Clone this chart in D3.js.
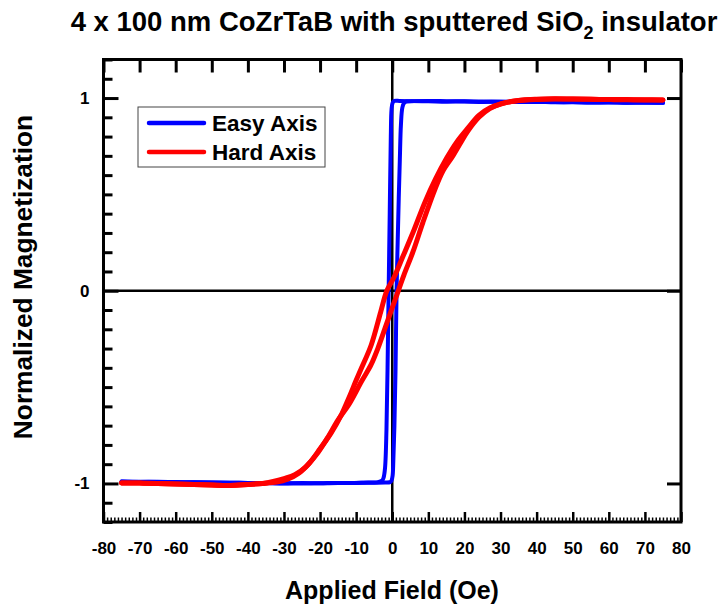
<!DOCTYPE html>
<html><head><meta charset="utf-8">
<script src="https://cdn.jsdelivr.net/npm/d3@7"></script>
<style>
body{margin:0;background:#fff}
text{font-family:"Liberation Sans",Arial,sans-serif;font-weight:bold;fill:#000}
</style></head><body><svg id="c" width="722" height="607"></svg>
<script>
// ---- data ----
const xTickValues = [-80,-70,-60,-50,-40,-30,-20,-10,0,10,20,30,40,50,60,70,80];
const yTickValues = [-1,0,1];
const seriesNames = ["Easy Axis","Hard Axis"];

// Easy axis: descending branch (+75 -> -75)
const easyDescH = [75,70,65,60,55,50,45,40,35,30,25,20,15,10,5,2,0.6,0.1,-0.2,-0.4,-0.7,-1.0,-1.3,-1.6,-2.0,-2.4,-2.8,-4,-8,-12,-16,-20,-25,-30,-35,-40,-45,-50,-55,-60,-65,-70,-75];
const easyDescM = [0.975,0.977,0.976,0.978,0.977,0.979,0.978,0.98,0.979,0.981,0.98,0.982,0.981,0.983,0.984,0.985,0.985,0.975,0.94,0.8,0.4,0.0,-0.4,-0.72,-0.92,-0.97,-0.985,-0.993,-0.996,-0.998,-0.997,-0.999,-0.998,-1.0,-0.998,-0.997,-0.996,-0.995,-0.994,-0.993,-0.992,-0.991,-0.99];
// Easy axis: ascending branch (-75 -> +75)
const easyAscH = [-75,-70,-65,-60,-55,-50,-45,-40,-35,-30,-25,-20,-15,-10,-5,-2,-0.6,-0.2,0.1,0.3,0.6,0.9,1.2,1.5,1.8,2.1,2.4,2.8,3.3,4,6,10,15,20,25,30,35,40,45,50,55,60,65,70,75];
const easyAscM = [-0.99,-0.992,-0.991,-0.993,-0.994,-0.995,-0.996,-0.997,-0.998,-0.999,-1.0,-0.999,-0.998,-0.997,-0.996,-0.995,-0.993,-0.985,-0.96,-0.88,-0.7,-0.42,0.0,0.25,0.48,0.68,0.86,0.95,0.975,0.982,0.984,0.985,0.984,0.983,0.982,0.981,0.98,0.98,0.979,0.978,0.977,0.977,0.976,0.976,0.975];

// Hard axis: descending branch (+75 -> -75)
const hardDescH = [75,70,65,60,55,50,45,40,36,33,30,27,24,21,18,15,12,9,6,3,0.5,-1.5,-3.2,-5.8,-8.5,-10,-12,-14,-17,-20,-23,-26,-29,-32,-36,-40,-45,-50,-55,-60,-65,-70,-75];
const hardDescM = [0.99,0.991,0.992,0.992,0.994,0.995,0.996,0.994,0.99,0.982,0.968,0.948,0.91,0.845,0.775,0.686,0.58,0.457,0.314,0.18,0.07,0.0,-0.11,-0.28,-0.40,-0.465,-0.555,-0.64,-0.74,-0.82,-0.895,-0.948,-0.978,-0.993,-1.0,-1.005,-1.01,-1.008,-1.005,-1.003,-1.0,-0.998,-0.997];
// Hard axis: ascending branch (-75 -> +75)
const hardAscH = [-75,-70,-65,-60,-55,-50,-45,-40,-36,-33,-30,-27,-24,-21,-18,-15,-12,-8.5,-5.9,-4,-0.8,1.3,3.2,5.7,8.5,11.8,14,16.8,19,21,24,27,30,34,40,45,50,55,60,65,70,75];
const hardAscM = [-0.997,-0.998,-1.0,-1.003,-1.005,-1.008,-1.01,-1.005,-1.0,-0.99,-0.975,-0.955,-0.915,-0.85,-0.765,-0.67,-0.59,-0.47,-0.385,-0.3,-0.13,-0.02,0.08,0.2,0.355,0.525,0.62,0.70,0.77,0.83,0.9,0.945,0.97,0.985,0.993,0.995,0.995,0.994,0.992,0.991,0.99,0.99];

// ---- chart ----
const svg = d3.select("#c");
const x = d3.scaleLinear().domain([-80,80]).range([103.5,681]);
const y = d3.scaleLinear().domain([-1.2,1.2]).range([522,59.5]);
const line = d3.line().x(d=>x(d[0])).y(d=>y(d[1])).curve(d3.curveCatmullRom.alpha(0.5));

// title
const t = svg.append("text").attr("x",394).attr("y",31).attr("text-anchor","middle").style("font-size","27.5px");
t.append("tspan").text("4 x 100 nm CoZrTaB with sputtered SiO");
t.append("tspan").text("2").style("font-size","18px").attr("dy",8);
t.append("tspan").text(" insulator").attr("dy",-8);

// axis labels
svg.append("text").attr("x",392).attr("y",599).attr("text-anchor","middle").style("font-size","25px").text("Applied Field (Oe)");
svg.append("text").attr("transform","translate(32,277) rotate(-90)").attr("text-anchor","middle").style("font-size","26.3px").text("Normalized Magnetization");

function styleAxis(g, w){
  g.select(".domain").remove();
  g.selectAll(".tick line").attr("stroke","#000").attr("stroke-width",w);
  g.selectAll(".tick text").style("font-size","17px").attr("fill","#000");
}
const minorX = d3.range(-80,81,1).filter(d=>d%10!==0);
const minorY = d3.range(-12,13,1).filter(d=>d%10!==0).map(d=>d/10);

svg.append("g").attr("transform","translate(0,522)")
  .call(d3.axisBottom(x).tickValues(minorX).tickSizeInner(-4.5).tickSizeOuter(0).tickFormat(""))
  .call(g=>styleAxis(g,1.5));
svg.append("g").attr("transform","translate(0,522)")
  .call(d3.axisBottom(x).tickValues(xTickValues).tickSizeInner(-10).tickSizeOuter(0).tickPadding(20).tickFormat(d=>String(d)))
  .call(g=>styleAxis(g,2.5));
svg.append("g").attr("transform","translate(0,59.5)")
  .call(d3.axisTop(x).tickValues(xTickValues).tickSizeInner(-13).tickSizeOuter(0).tickFormat(""))
  .call(g=>styleAxis(g,3));
svg.append("g").attr("transform","translate(103.5,0)")
  .call(d3.axisLeft(y).tickValues(minorY).tickSizeInner(-9).tickSizeOuter(0).tickFormat(""))
  .call(g=>styleAxis(g,3));
svg.append("g").attr("transform","translate(103.5,0)")
  .call(d3.axisLeft(y).tickValues(yTickValues).tickSizeInner(-15).tickSizeOuter(0).tickPadding(14).tickFormat(d=>String(d)))
  .call(g=>styleAxis(g,3));
svg.append("g").attr("transform","translate(681,0)")
  .call(d3.axisRight(y).tickValues(yTickValues).tickSizeInner(-14).tickSizeOuter(0).tickFormat(""))
  .call(g=>styleAxis(g,3));

// zero lines
svg.append("line").attr("x1",x(-80)).attr("x2",x(80)).attr("y1",y(0)).attr("y2",y(0)).attr("stroke","#000").attr("stroke-width",2.5);
svg.append("line").attr("x1",x(0)).attr("x2",x(0)).attr("y1",y(-1.2)).attr("y2",y(1.2)).attr("stroke","#000").attr("stroke-width",2.5);

// frame
svg.append("rect").attr("x",x(-80)).attr("y",y(1.2)).attr("width",x(80)-x(-80)).attr("height",y(-1.2)-y(1.2))
  .attr("fill","none").attr("stroke","#000").attr("stroke-width",3);

// curves (each branch drawn separately)
const branches = [
  {c:"#0000ff", w:4, d:d3.zip(easyDescH,easyDescM)},
  {c:"#0000ff", w:4, d:d3.zip(easyAscH,easyAscM)},
  {c:"#ff0000", w:5, d:d3.zip(hardDescH,hardDescM)},
  {c:"#ff0000", w:5, d:d3.zip(hardAscH,hardAscM)}
];
branches.forEach(b=>{
  svg.append("path").attr("d",line(b.d)).attr("fill","none").attr("stroke",b.c).attr("stroke-width",b.w)
    .attr("stroke-linejoin","round").attr("stroke-linecap","round");
});

// legend
const lg = svg.append("g");
lg.append("rect").attr("x",138).attr("y",107).attr("width",187).attr("height",60).attr("fill","#fff").attr("stroke","#444").attr("stroke-width",1);
const colors = ["#0000ff","#ff0000"];
seriesNames.forEach((n,i)=>{
  const yy = 123 + i*29;
  lg.append("line").attr("x1",149).attr("x2",204).attr("y1",yy).attr("y2",yy).attr("stroke",colors[i]).attr("stroke-width",4.5).attr("stroke-linecap","round");
  lg.append("text").attr("x",212).attr("y",yy).attr("dy","0.36em").style("font-size","22.5px").text(n);
});
</script></body></html>
